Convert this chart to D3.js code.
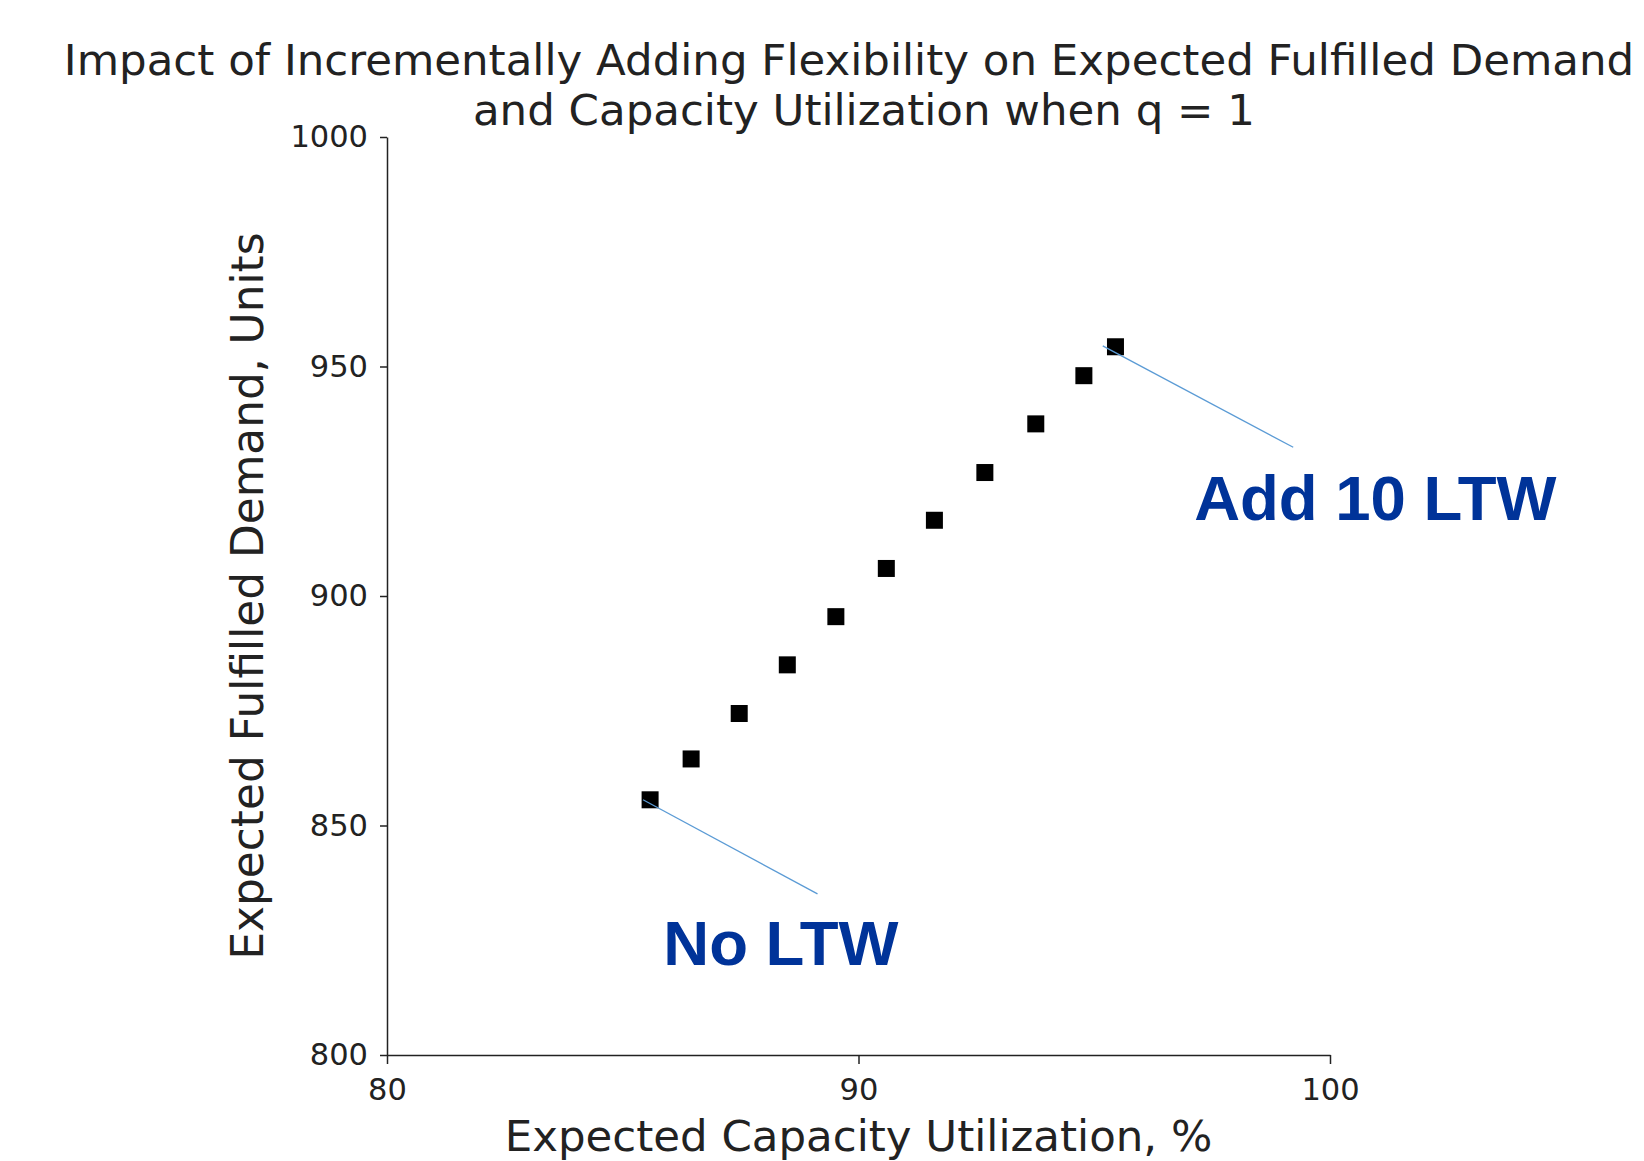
<!DOCTYPE html>
<meta charset="utf-8">
<style>
    body { margin: 0; background: #fff; }
    text { font-family: "DejaVu Sans", sans-serif; fill: #222; }
    .axis path, .axis line { stroke: #222; stroke-width: 1.5; }
    .axis text { font-size: 30.5px; fill: #222; font-family: "DejaVu Sans", sans-serif; }
    .note text { font-family: "Liberation Sans", Arial, sans-serif; font-weight: bold; fill: #003399; font-size: 63.5px; }
</style>
<svg width="1644" height="1161"></svg>
<script src="https://d3js.org/d3.v7.min.js"></script>
<script>
    // expected capacity utilization (%) and expected fulfilled demand (units)
    var utilization = [85.58, 86.45, 87.47, 88.49, 89.52, 90.59, 91.61, 92.68, 93.76, 94.78, 95.45];
    var demand      = [855.6, 864.5, 874.4, 885.0, 895.5, 906.0, 916.5, 926.9, 937.5, 948.0, 954.3];
    var xTicks = [80, 90, 100];
    var yTicks = [800, 850, 900, 950, 1000];

    // annotation text, pointer line (from -> to) and label anchor, in data units
    var noteLabels = ["No LTW", "Add 10 LTW"];
    var noteFrom   = [[85.43, 855.6], [95.18, 954.5]];
    var noteTo     = [[89.13, 835.1], [99.22, 932.4]];
    var noteAt     = [[85.86, 819.6], [97.12, 916.6]];

    var svg = d3.select("svg");
    var x = d3.scaleLinear().domain([80, 100]).range([387, 1330]);
    var y = d3.scaleLinear().domain([800, 1000]).range([1055, 137]);

    // title (first line sits a bit left of the second in the original)
    var title = svg.append("text")
        .attr("text-anchor", "middle")
        .style("font-size", "43.5px");
    title.append("tspan").attr("x", 849).attr("y", 75)
        .text("Impact of Incrementally Adding Flexibility on Expected Fulfilled Demand");
    title.append("tspan").attr("x", 864).attr("y", 125)
        .text("and Capacity Utilization when q = 1");

    // axes, left + bottom spines only
    svg.append("g").attr("class", "axis")
        .attr("transform", "translate(0,1055)")
        .call(d3.axisBottom(x).tickValues(xTicks).tickFormat(d3.format("d"))
            .tickSize(9).tickPadding(14).tickSizeOuter(0))
        .selectAll("text").attr("dy", "0.71em");

    svg.append("g").attr("class", "axis")
        .attr("transform", "translate(387,0)")
        .call(d3.axisLeft(y).tickValues(yTicks).tickFormat(d3.format("d"))
            .tickSize(7).tickPadding(12).tickSizeOuter(0));

    var cx = (x.range()[0] + x.range()[1]) / 2;
    svg.append("text")
        .attr("x", cx).attr("y", 1151)
        .attr("text-anchor", "middle")
        .style("font-size", "43.5px")
        .text("Expected Capacity Utilization, %");

    svg.append("text")
        .attr("transform", "translate(263," + ((y.range()[0] + y.range()[1]) / 2) + ") rotate(-90)")
        .attr("text-anchor", "middle")
        .style("font-size", "43.8px")
        .text("Expected Fulfilled Demand, Units");

    // square markers
    var pts = d3.zip(utilization, demand);
    var s = 17;
    svg.append("g").selectAll("rect")
        .data(pts)
        .enter().append("rect")
        .attr("x", function (d) { return x(d[0]) - s / 2; })
        .attr("y", function (d) { return y(d[1]) - s / 2; })
        .attr("width", s).attr("height", s)
        .style("fill", "#000");

    // annotations
    var note = svg.append("g").attr("class", "note");
    note.selectAll("line")
        .data(noteLabels)
        .enter().append("line")
        .attr("x1", function (d, i) { return x(noteFrom[i][0]); })
        .attr("y1", function (d, i) { return y(noteFrom[i][1]); })
        .attr("x2", function (d, i) { return x(noteTo[i][0]); })
        .attr("y2", function (d, i) { return y(noteTo[i][1]); })
        .style("stroke", "#5b9bd5")
        .style("stroke-width", 1.3);
    note.selectAll("text")
        .data(noteLabels)
        .enter().append("text")
        .attr("x", function (d, i) { return x(noteAt[i][0]); })
        .attr("y", function (d, i) { return y(noteAt[i][1]); })
        .text(function (d) { return d; });
</script>
